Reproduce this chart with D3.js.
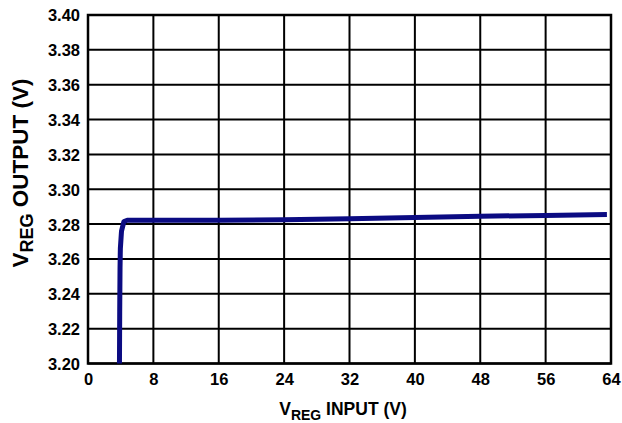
<!DOCTYPE html>
<html><head><meta charset="utf-8">
<script src="https://cdn.jsdelivr.net/npm/d3@7"></script>
<style>
body{margin:0;background:#fff;}
svg{display:block;}
text{font-family:"Liberation Sans",Arial,sans-serif;font-weight:bold;fill:#000;}
</style></head><body>
<script>
const xTicks = [0, 8, 16, 24, 32, 40, 48, 56, 64];
const yTicks = [3.20, 3.22, 3.24, 3.26, 3.28, 3.30, 3.32, 3.34, 3.36, 3.38, 3.40];
const vin  = [3.85, 3.88, 3.92, 3.96, 4.1, 4.4, 4.8, 8, 16, 24, 32, 40, 48, 56, 63.5];
const vout = [3.200, 3.230, 3.255, 3.266, 3.276, 3.2815, 3.2822, 3.2822, 3.2822, 3.2825, 3.2831, 3.2838, 3.2845, 3.2850, 3.2855];

const W = 622, H = 423;
const m = {l: 88, r: 611, t: 15, b: 363.5};
const svg = d3.select("body").append("svg").attr("width", W).attr("height", H);
const x = d3.scaleLinear().domain([0, 64]).range([m.l, m.r]);
const y = d3.scaleLinear().domain([3.20, 3.40]).range([m.b, m.t]);

// grid
svg.append("g").selectAll("line").data(xTicks).join("line")
  .attr("x1", d => x(d)).attr("x2", d => x(d)).attr("y1", m.t).attr("y2", m.b)
  .attr("stroke", "#000").attr("stroke-width", 2);
svg.append("g").selectAll("line").data(yTicks).join("line")
  .attr("y1", d => y(d)).attr("y2", d => y(d)).attr("x1", m.l).attr("x2", m.r)
  .attr("stroke", "#000").attr("stroke-width", 2);
svg.append("rect").attr("x", m.l).attr("y", m.t).attr("width", m.r - m.l).attr("height", m.b - m.t)
  .attr("fill", "none").attr("stroke", "#000").attr("stroke-width", 2.5);

const font = '"Liberation Sans",Arial,sans-serif';
// axes labels
const xa = svg.append("g").attr("transform", `translate(0,${m.b})`)
  .call(d3.axisBottom(x).tickValues(xTicks).tickSize(0).tickPadding(0).tickFormat(d3.format("d")));
xa.select(".domain").remove();
xa.selectAll("text").attr("y", 21).attr("dy", 0).style("font-size", "16.5px")
  .style("font-family", font).style("font-weight", "bold").style("fill", "#000");

const ya = svg.append("g").attr("transform", `translate(${m.l},0)`)
  .call(d3.axisLeft(y).tickValues(yTicks).tickSize(0).tickPadding(8).tickFormat(d3.format(".2f")));
ya.select(".domain").remove();
ya.selectAll("text").attr("dy", "0.36em").style("font-size", "16.5px")
  .style("font-family", font).style("font-weight", "bold").style("fill", "#000");

// curve
const line = d3.line().x((d, i) => x(vin[i])).y(d => y(d));
svg.append("path").datum(vout).attr("d", line).attr("fill", "none")
  .attr("stroke", "#0b0b82").attr("stroke-width", 5).attr("stroke-linejoin", "round");

// x title
const xt = svg.append("text").attr("x", 343).attr("y", 415).attr("text-anchor", "middle").style("font-size", "17.5px");
xt.append("tspan").text("V");
xt.append("tspan").attr("dy", 5).style("font-size", "14px").text("REG");
xt.append("tspan").attr("dy", -5).text(" INPUT (V)");

// y title
const yt = svg.append("text").attr("transform", "translate(28,173) rotate(-90)").attr("text-anchor", "middle").style("font-size", "22.5px");
yt.append("tspan").text("V");
yt.append("tspan").attr("dy", 5).style("font-size", "18px").text("REG");
yt.append("tspan").attr("dy", -5).text(" OUTPUT (V)");
</script>
</body></html>
